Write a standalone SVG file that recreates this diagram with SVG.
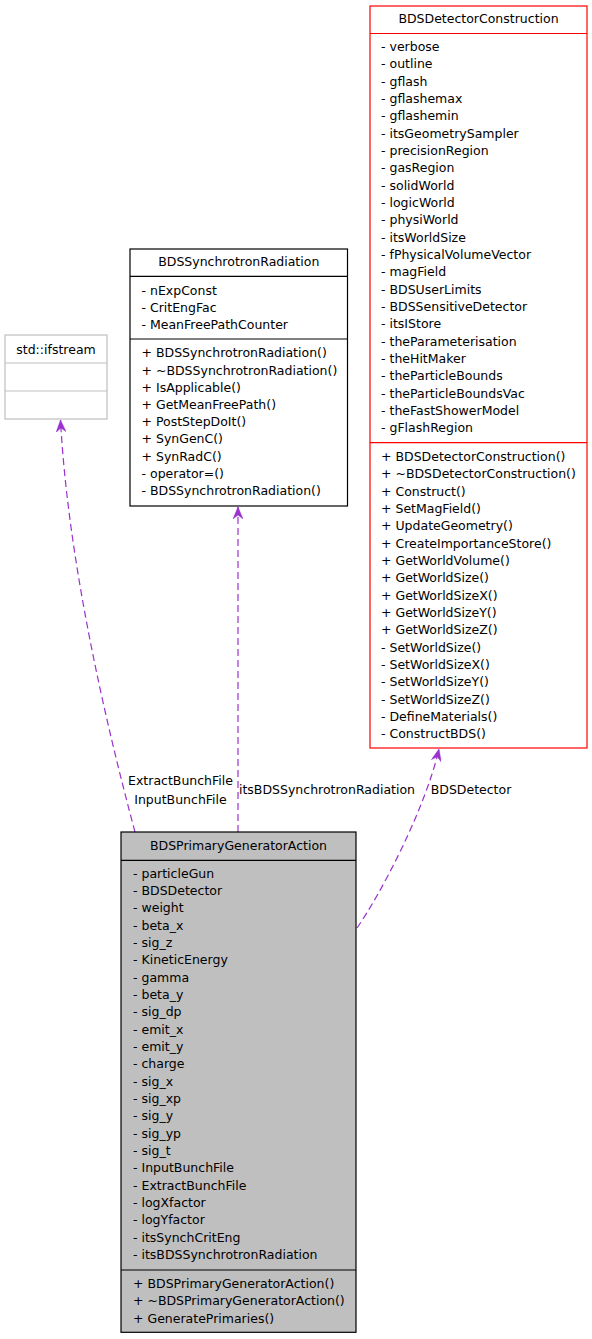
<svg xmlns="http://www.w3.org/2000/svg" width="592" height="1339" viewBox="0 0 592 1339">
<style>
text{font-family:"DejaVu Sans","Liberation Sans",sans-serif;font-size:12.5px;fill:#000}
.t{text-anchor:middle}
.box{fill:#fff;stroke:#000;stroke-width:1.2}
.red{fill:#fff;stroke:#ff0000;stroke-width:1.2}
.gray{fill:#fff;stroke:#bfbfbf;stroke-width:1.2}
.main{fill:#bfbfbf;stroke:#000;stroke-width:1.2}
.edge{fill:none;stroke:#9a32cd;stroke-width:1.2;stroke-dasharray:7,4;marker-end:url(#vee)}
</style>
<defs>
<marker id="vee" viewBox="0 0 12 10" refX="12" refY="5" markerWidth="12" markerHeight="10" markerUnits="userSpaceOnUse" orient="auto">
<path d="M0,0 L12,5 L0,10 L4,5 Z" fill="#9a32cd" stroke="#9a32cd" stroke-width="0.5"/>
</marker>
</defs>
<rect width="592" height="1339" fill="#fff"/>

<g id="connectors">
<path class="edge" d="M135,832 C105,720 68,560 60.5,420"/>
<path class="edge" d="M238,832 L238,507"/>
<path class="edge" d="M357,928 C380,895 425,810 439,749"/>
<text class="t" x="180.5" y="785">ExtractBunchFile</text>
<text class="t" x="180.5" y="803.5">InputBunchFile</text>
<text class="t" x="327" y="794">itsBDSSynchrotronRadiation</text>
<text class="t" x="471" y="794">BDSDetector</text>
</g>

<g id="std_ifstream">
<rect class="gray" x="5" y="335" width="102" height="84"/>
<line x1="5" y1="363" x2="107" y2="363" stroke="#bfbfbf" stroke-width="1.2"/>
<line x1="5" y1="391" x2="107" y2="391" stroke="#bfbfbf" stroke-width="1.2"/>
<text class="t" x="56" y="353.8">std::ifstream</text>
</g>

<g id="BDSSynchrotronRadiation">
<rect class="box" x="130" y="249" width="217.5" height="257"/>
<line x1="130" y1="276.3" x2="347.5" y2="276.3" stroke="#000" stroke-width="1.2"/>
<line x1="130" y1="339" x2="347.5" y2="339" stroke="#000" stroke-width="1.2"/>
<text class="t" x="238.75" y="266.3">BDSSynchrotronRadiation</text>
<text x="141.5" y="294.5">- nExpConst<tspan x="141.5" dy="17.33">- CritEngFac</tspan><tspan x="141.5" dy="17.33">- MeanFreePathCounter</tspan></text>
<text x="141.5" y="357.3">+ BDSSynchrotronRadiation()<tspan x="141.5" dy="17.2">+ ~BDSSynchrotronRadiation()</tspan><tspan x="141.5" dy="17.2">+ IsApplicable()</tspan><tspan x="141.5" dy="17.2">+ GetMeanFreePath()</tspan><tspan x="141.5" dy="17.2">+ PostStepDoIt()</tspan><tspan x="141.5" dy="17.2">+ SynGenC()</tspan><tspan x="141.5" dy="17.2">+ SynRadC()</tspan><tspan x="141.5" dy="17.2">- operator=()</tspan><tspan x="141.5" dy="17.2">- BDSSynchrotronRadiation()</tspan></text>
</g>

<g id="BDSDetectorConstruction">
<rect class="red" x="370" y="6" width="217" height="742"/>
<line x1="370" y1="33.5" x2="587" y2="33.5" stroke="#ff0000" stroke-width="1.2"/>
<line x1="370" y1="442.7" x2="587" y2="442.7" stroke="#ff0000" stroke-width="1.2"/>
<text class="t" x="478.5" y="22.8">BDSDetectorConstruction</text>
<text x="381" y="51">- verbose<tspan x="381" dy="17.33">- outline</tspan><tspan x="381" dy="17.33">- gflash</tspan><tspan x="381" dy="17.33">- gflashemax</tspan><tspan x="381" dy="17.33">- gflashemin</tspan><tspan x="381" dy="17.33">- itsGeometrySampler</tspan><tspan x="381" dy="17.33">- precisionRegion</tspan><tspan x="381" dy="17.33">- gasRegion</tspan><tspan x="381" dy="17.33">- solidWorld</tspan><tspan x="381" dy="17.33">- logicWorld</tspan><tspan x="381" dy="17.33">- physiWorld</tspan><tspan x="381" dy="17.33">- itsWorldSize</tspan><tspan x="381" dy="17.33">- fPhysicalVolumeVector</tspan><tspan x="381" dy="17.33">- magField</tspan><tspan x="381" dy="17.33">- BDSUserLimits</tspan><tspan x="381" dy="17.33">- BDSSensitiveDetector</tspan><tspan x="381" dy="17.33">- itsIStore</tspan><tspan x="381" dy="17.33">- theParameterisation</tspan><tspan x="381" dy="17.33">- theHitMaker</tspan><tspan x="381" dy="17.33">- theParticleBounds</tspan><tspan x="381" dy="17.33">- theParticleBoundsVac</tspan><tspan x="381" dy="17.33">- theFastShowerModel</tspan><tspan x="381" dy="17.33">- gFlashRegion</tspan></text>
<text x="381" y="461">+ BDSDetectorConstruction()<tspan x="381" dy="17.33">+ ~BDSDetectorConstruction()</tspan><tspan x="381" dy="17.33">+ Construct()</tspan><tspan x="381" dy="17.33">+ SetMagField()</tspan><tspan x="381" dy="17.33">+ UpdateGeometry()</tspan><tspan x="381" dy="17.33">+ CreateImportanceStore()</tspan><tspan x="381" dy="17.33">+ GetWorldVolume()</tspan><tspan x="381" dy="17.33">+ GetWorldSize()</tspan><tspan x="381" dy="17.33">+ GetWorldSizeX()</tspan><tspan x="381" dy="17.33">+ GetWorldSizeY()</tspan><tspan x="381" dy="17.33">+ GetWorldSizeZ()</tspan><tspan x="381" dy="17.33">- SetWorldSize()</tspan><tspan x="381" dy="17.33">- SetWorldSizeX()</tspan><tspan x="381" dy="17.33">- SetWorldSizeY()</tspan><tspan x="381" dy="17.33">- SetWorldSizeZ()</tspan><tspan x="381" dy="17.33">- DefineMaterials()</tspan><tspan x="381" dy="17.33">- ConstructBDS()</tspan></text>
</g>

<g id="BDSPrimaryGeneratorAction">
<rect class="main" x="121" y="832" width="235" height="500.3"/>
<line x1="121" y1="860.3" x2="356" y2="860.3" stroke="#000" stroke-width="1.2"/>
<line x1="121" y1="1270" x2="356" y2="1270" stroke="#000" stroke-width="1.2"/>
<text class="t" x="238.5" y="849.8">BDSPrimaryGeneratorAction</text>
<text x="133" y="877.7">- particleGun<tspan x="133" dy="17.33">- BDSDetector</tspan><tspan x="133" dy="17.33">- weight</tspan><tspan x="133" dy="17.33">- beta_x</tspan><tspan x="133" dy="17.33">- sig_z</tspan><tspan x="133" dy="17.33">- KineticEnergy</tspan><tspan x="133" dy="17.33">- gamma</tspan><tspan x="133" dy="17.33">- beta_y</tspan><tspan x="133" dy="17.33">- sig_dp</tspan><tspan x="133" dy="17.33">- emit_x</tspan><tspan x="133" dy="17.33">- emit_y</tspan><tspan x="133" dy="17.33">- charge</tspan><tspan x="133" dy="17.33">- sig_x</tspan><tspan x="133" dy="17.33">- sig_xp</tspan><tspan x="133" dy="17.33">- sig_y</tspan><tspan x="133" dy="17.33">- sig_yp</tspan><tspan x="133" dy="17.33">- sig_t</tspan><tspan x="133" dy="17.33">- InputBunchFile</tspan><tspan x="133" dy="17.33">- ExtractBunchFile</tspan><tspan x="133" dy="17.33">- logXfactor</tspan><tspan x="133" dy="17.33">- logYfactor</tspan><tspan x="133" dy="17.33">- itsSynchCritEng</tspan><tspan x="133" dy="17.33">- itsBDSSynchrotronRadiation</tspan></text>
<text x="133" y="1287.7">+ BDSPrimaryGeneratorAction()<tspan x="133" dy="17.5">+ ~BDSPrimaryGeneratorAction()</tspan><tspan x="133" dy="17.5">+ GeneratePrimaries()</tspan></text>
</g>
</svg>
